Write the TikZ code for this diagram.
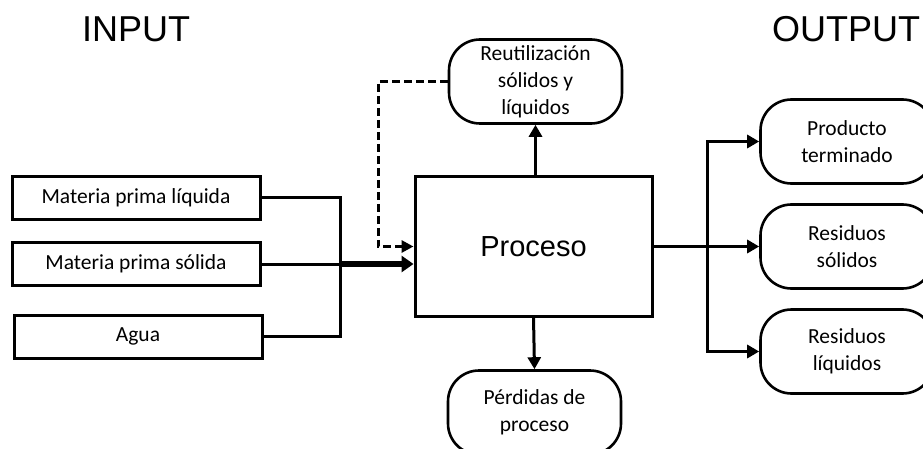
\documentclass[tikz,border=0pt]{standalone}
\usepackage{fontspec}
\setmainfont{Carlito}
\newfontfamily\hdfont{Liberation Sans}
\usetikzlibrary{arrows.meta}
\tikzset{
  lbl/.style={font=\fontsize{21.5}{27}\selectfont, align=center, inner sep=0pt},
  inbox/.style={lbl, draw, line width=3pt, minimum width=248pt, minimum height=43pt},
  procbox/.style={draw, line width=3pt, minimum width=237pt, minimum height=139pt, inner sep=0pt, font=\hdfont\fontsize{29}{34}\selectfont},
  term/.style={lbl, draw, line width=2.6pt, rounded corners=31pt, minimum width=173pt, minimum height=84pt},
  title/.style={font=\hdfont\fontsize{36}{40}\selectfont, inner sep=0pt},
  conn/.style={line width=3pt},
  tip/.style={-{Triangle[length=12pt,width=13pt]}},
  bigtip/.style={-{Triangle[length=12pt,width=16pt]}},
  dashconn/.style={line width=3pt, dash pattern=on 8pt off 4pt, -{Triangle[length=12pt,width=12pt]}},
}
\begin{document}
\begin{tikzpicture}[x=1pt,y=-1pt]
\useasboundingbox (0,0) rectangle (923,449);
\node[title] (tin) at (136,29) {INPUT};
\node[title] (tout) at (846,29) {OUTPUT};
\node[inbox] (mpl) at (136,198) {Materia prima líquida};
\node[inbox] (mps) at (136,264) {Materia prima sólida};
\node[inbox] (agua) at (138,336.5) {Agua};
\node[procbox] (proc) at (533.5,246.5) {Proceso};
\node[term] (reut) at (535.5,81.5) {Reutilización\\sólidos y\\líquidos};
\node[term] (perd) at (534.5,412.5) {Pérdidas de\\proceso};
\node[term] (out1) at (847,141.5) {Producto\\terminado};
\node[term] (out2) at (847,246.5) {Residuos\\sólidos};
\node[term] (out3) at (847,351.5) {Residuos\\líquidos};
\coordinate (j) at (340,264);
\coordinate (dc) at (378,246.5);
\coordinate (b) at (707,246.5);
\draw[conn] (mpl.east) -| (j) |- (agua.east);
\draw[conn] (mps.east) -- (j);
\draw[line width=6pt, bigtip] (j) -- (j -| proc.west);
\draw[dashconn] (reut.west) -| (dc) -- (proc.west);
\draw[conn, tip] (proc.north -| reut.south) -- (reut.south);
\draw[conn, tip] (proc.south) -- (perd.north);
\draw[conn, tip] (proc.east) -- (out2.west);
\draw[conn, tip] (b) |- (out1.west);
\draw[conn, tip] (b) |- (out3.west);
\end{tikzpicture}
\end{document}
